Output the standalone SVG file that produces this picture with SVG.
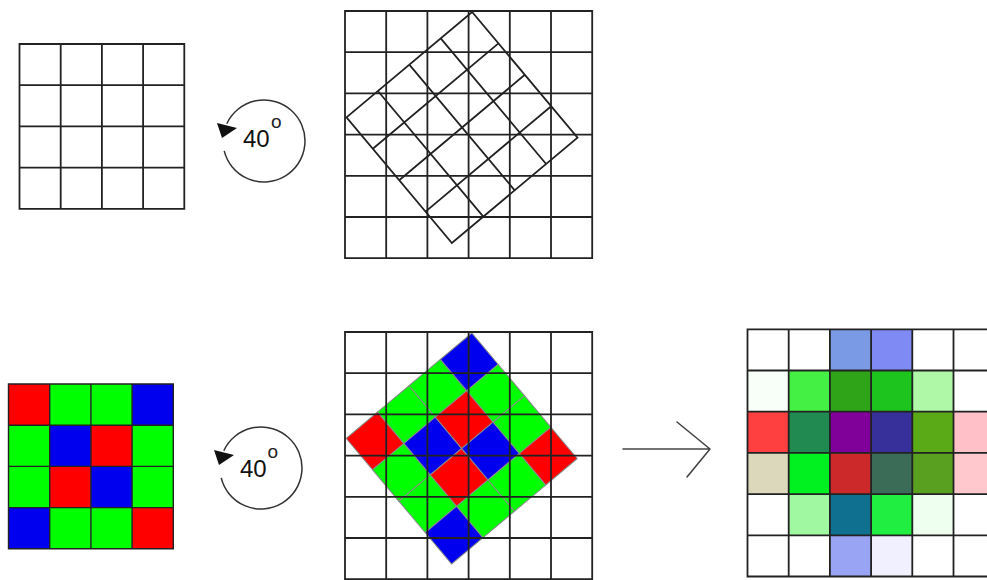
<svg xmlns="http://www.w3.org/2000/svg" xmlns:xlink="http://www.w3.org/1999/xlink" width="987" height="580" viewBox="0 0 987 580">
<style>
.grid{fill:none;stroke:#222;stroke-width:1.8}
.rgrid{fill:none;stroke:#222;stroke-width:1.8}
.cellr{stroke:#8a8a8a;stroke-width:1}
.sym{fill:none;stroke:#333;stroke-width:1.5}
.head{fill:#111}
.lbl{font-family:"Liberation Sans",Arial,sans-serif;font-size:24px;fill:#111}
.deg{font-family:"Liberation Sans",Arial,sans-serif;font-size:19px;fill:#222}
.conn{fill:none;stroke:#444;stroke-width:1.6;stroke-linecap:round;stroke-linejoin:round}
</style>
<defs>
<path id="g4" d="M0 0H164.8V164.8H0Z M41.2 0V164.8 M82.4 0V164.8 M123.6 0V164.8 M0 41.2H164.8 M0 82.4H164.8 M0 123.6H164.8"/>
<path id="g6" d="M0 0H247.2V247.2H0Z M41.2 0V247.2 M82.4 0V247.2 M123.6 0V247.2 M164.8 0V247.2 M206 0V247.2 M0 41.2H247.2 M0 82.4H247.2 M0 123.6H247.2 M0 164.8H247.2 M0 206H247.2"/>
<path id="gr" d="M-82 -82H82V82H-82Z M-41 -82V82 M0 -82V82 M41 -82V82 M-82 -41H82 M-82 0H82 M-82 41H82"/>
<g id="rot">
<path class="sym" d="M-39.8 9.9 A41 41 0 1 0 -37.2 -17.3"/>
<polygon class="head" points="-47,-18 -27,-13 -42,-3"/>
</g>
</defs>
<rect width="987" height="580" fill="#fff"/>

<g id="grid-top-left">
<use xlink:href="#g4" class="grid" x="19.5" y="44"/>
</g>

<g id="rotate-top">
<use xlink:href="#rot" x="264" y="141"/>
<text class="lbl" x="243" y="147">40<tspan class="deg" x="271" y="128">o</tspan></text>
</g>

<g id="grid-top-middle">
<use xlink:href="#g6" class="grid" x="345" y="11"/>
<g transform="translate(462,127.5) rotate(-40)">
<use xlink:href="#gr" class="rgrid"/>
</g>
</g>

<g id="grid-bottom-left">
<g transform="translate(8.5,384)">
<rect x="0" y="0" width="41.2" height="41.2" fill="#f00"/>
<rect x="41.2" y="0" width="41.2" height="41.2" fill="#0f0"/>
<rect x="82.4" y="0" width="41.2" height="41.2" fill="#0f0"/>
<rect x="123.6" y="0" width="41.2" height="41.2" fill="#00e"/>
<rect x="0" y="41.2" width="41.2" height="41.2" fill="#0f0"/>
<rect x="41.2" y="41.2" width="41.2" height="41.2" fill="#00e"/>
<rect x="82.4" y="41.2" width="41.2" height="41.2" fill="#f00"/>
<rect x="123.6" y="41.2" width="41.2" height="41.2" fill="#0f0"/>
<rect x="0" y="82.4" width="41.2" height="41.2" fill="#0f0"/>
<rect x="41.2" y="82.4" width="41.2" height="41.2" fill="#f00"/>
<rect x="82.4" y="82.4" width="41.2" height="41.2" fill="#00e"/>
<rect x="123.6" y="82.4" width="41.2" height="41.2" fill="#0f0"/>
<rect x="0" y="123.6" width="41.2" height="41.2" fill="#00e"/>
<rect x="41.2" y="123.6" width="41.2" height="41.2" fill="#0f0"/>
<rect x="82.4" y="123.6" width="41.2" height="41.2" fill="#0f0"/>
<rect x="123.6" y="123.6" width="41.2" height="41.2" fill="#f00"/>
<use xlink:href="#g4" fill="none" stroke="#222" stroke-width="1.4"/>
</g>
</g>

<g id="rotate-bottom">
<use xlink:href="#rot" x="261" y="468"/>
<text class="lbl" x="240" y="477">40<tspan class="deg" x="267.5" y="458">o</tspan></text>
</g>

<g id="grid-bottom-middle">
<g transform="translate(461.7,448.5) rotate(-40)">
<rect class="cellr" x="-82" y="-82" width="41" height="41" fill="#f00"/>
<rect class="cellr" x="-41" y="-82" width="41" height="41" fill="#0f0"/>
<rect class="cellr" x="0" y="-82" width="41" height="41" fill="#0f0"/>
<rect class="cellr" x="41" y="-82" width="41" height="41" fill="#00e"/>
<rect class="cellr" x="-82" y="-41" width="41" height="41" fill="#0f0"/>
<rect class="cellr" x="-41" y="-41" width="41" height="41" fill="#00e"/>
<rect class="cellr" x="0" y="-41" width="41" height="41" fill="#f00"/>
<rect class="cellr" x="41" y="-41" width="41" height="41" fill="#0f0"/>
<rect class="cellr" x="-82" y="0" width="41" height="41" fill="#0f0"/>
<rect class="cellr" x="-41" y="0" width="41" height="41" fill="#f00"/>
<rect class="cellr" x="0" y="0" width="41" height="41" fill="#00e"/>
<rect class="cellr" x="41" y="0" width="41" height="41" fill="#0f0"/>
<rect class="cellr" x="-82" y="41" width="41" height="41" fill="#00e"/>
<rect class="cellr" x="-41" y="41" width="41" height="41" fill="#0f0"/>
<rect class="cellr" x="0" y="41" width="41" height="41" fill="#0f0"/>
<rect class="cellr" x="41" y="41" width="41" height="41" fill="#f00"/>
</g>
<use xlink:href="#g6" class="grid" x="345" y="332"/>
</g>

<g id="connectors">
<path class="conn" d="M623 449H710 M677 422L710 449L687 477"/>
</g>

<g id="grid-bottom-right">
<g transform="translate(747.5,329.3)">
<rect x="82.4" y="0" width="41.2" height="41.2" fill="#7a9ae6"/>
<rect x="123.6" y="0" width="41.2" height="41.2" fill="#7f8af5"/>
<rect x="0" y="41.2" width="41.2" height="41.2" fill="#f8fff8"/>
<rect x="41.2" y="41.2" width="41.2" height="41.2" fill="#44f044"/>
<rect x="82.4" y="41.2" width="41.2" height="41.2" fill="#30a418"/>
<rect x="123.6" y="41.2" width="41.2" height="41.2" fill="#1ec41e"/>
<rect x="164.8" y="41.2" width="41.2" height="41.2" fill="#aef8a8"/>
<rect x="0" y="82.4" width="41.2" height="41.2" fill="#ff4040"/>
<rect x="41.2" y="82.4" width="41.2" height="41.2" fill="#208a50"/>
<rect x="82.4" y="82.4" width="41.2" height="41.2" fill="#80009a"/>
<rect x="123.6" y="82.4" width="41.2" height="41.2" fill="#38309a"/>
<rect x="164.8" y="82.4" width="41.2" height="41.2" fill="#5aaa18"/>
<rect x="206" y="82.4" width="41.2" height="41.2" fill="#ffc0c8"/>
<rect x="0" y="123.6" width="41.2" height="41.2" fill="#dcd8bc"/>
<rect x="41.2" y="123.6" width="41.2" height="41.2" fill="#00f020"/>
<rect x="82.4" y="123.6" width="41.2" height="41.2" fill="#cc2a2a"/>
<rect x="123.6" y="123.6" width="41.2" height="41.2" fill="#3a6c58"/>
<rect x="164.8" y="123.6" width="41.2" height="41.2" fill="#5aa020"/>
<rect x="206" y="123.6" width="41.2" height="41.2" fill="#ffc8cc"/>
<rect x="41.2" y="164.8" width="41.2" height="41.2" fill="#a0f8a0"/>
<rect x="82.4" y="164.8" width="41.2" height="41.2" fill="#107090"/>
<rect x="123.6" y="164.8" width="41.2" height="41.2" fill="#20ee40"/>
<rect x="164.8" y="164.8" width="41.2" height="41.2" fill="#eefff0"/>
<rect x="82.4" y="206" width="41.2" height="41.2" fill="#9aa4f4"/>
<rect x="123.6" y="206" width="41.2" height="41.2" fill="#f0f0fe"/>
<use xlink:href="#g6" class="grid"/>
</g>
</g>
</svg>
